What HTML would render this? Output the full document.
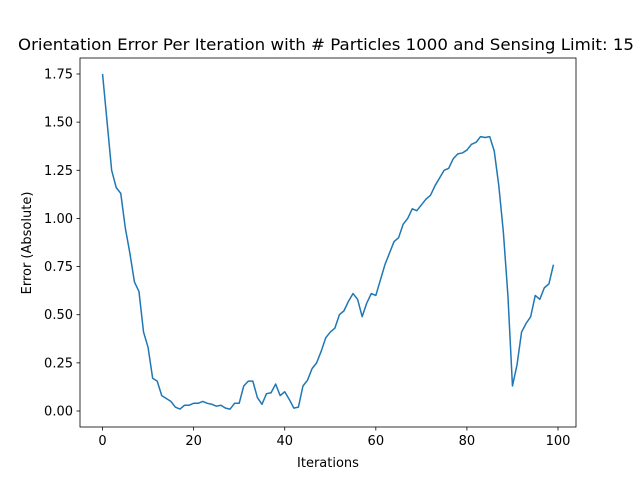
<!DOCTYPE html>
<html><head><meta charset="utf-8"><style>body{margin:0;background:#fff}svg{display:block;font-family:"DejaVu Sans","Liberation Sans",sans-serif}</style></head>
<body>
<svg id="chart" width="640" height="480" xmlns="http://www.w3.org/2000/svg">
<rect width="640" height="480" fill="#fff"/>
<text x="326" y="50" font-size="16" text-anchor="middle" textLength="616" lengthAdjust="spacingAndGlyphs">Orientation Error Per Iteration with # Particles 1000 and Sensing Limit: 15</text>
<g id="plot"></g>
<text x="328" y="467" font-size="13" text-anchor="middle">Iterations</text>
<text x="31" y="243" font-size="13" text-anchor="middle" transform="rotate(-90 31 243)">Error (Absolute)</text>
</svg>
<script>
const errors=[1.75,1.5,1.25,1.16,1.13,0.95,0.82,0.67,0.62,0.41,0.33,0.17,0.155,0.08,0.065,0.05,0.02,0.01,0.03,0.03,0.04,0.04,0.05,0.04,0.035,0.025,0.03,0.015,0.01,0.04,0.04,0.13,0.155,0.155,0.07,0.035,0.09,0.095,0.14,0.08,0.1,0.06,0.015,0.02,0.13,0.16,0.22,0.25,0.31,0.38,0.41,0.43,0.5,0.52,0.57,0.61,0.58,0.49,0.56,0.61,0.6,0.68,0.76,0.82,0.88,0.9,0.97,1.0,1.05,1.04,1.07,1.1,1.12,1.17,1.21,1.25,1.26,1.31,1.335,1.34,1.355,1.385,1.395,1.425,1.42,1.425,1.35,1.17,0.93,0.6,0.13,0.24,0.41,0.455,0.49,0.6,0.58,0.64,0.66,0.76];
const xTicks=[0,20,40,60,80,100];
const yTicks=[0,0.25,0.5,0.75,1.0,1.25,1.5,1.75];
const L=80,T=58,W=496,H=369;
const xmin=-4.95,xmax=103.95,ymin=-0.083,ymax=1.833;
const xs=v=>L+(v-xmin)/(xmax-xmin)*W;
const ys=v=>T+H-(v-ymin)/(ymax-ymin)*H;
const NS="http://www.w3.org/2000/svg";
const g=document.getElementById('plot');
function mk(t,a){const e=document.createElementNS(NS,t);for(const k in a)e.setAttribute(k,a[k]);g.appendChild(e);return e;}
const pts=errors.map((v,i)=>xs(i).toFixed(2)+','+ys(v).toFixed(2)).join(' ');
const line=mk('polyline',{points:pts,fill:'none',stroke:'#1f77b4','stroke-width':1.5,'stroke-linejoin':'round'});


xTicks.forEach(t=>{const x=xs(t);
 const tk=mk('line',{x1:x,x2:x,y1:T+H,y2:T+H+3.5,stroke:'#000','stroke-width':0.8});
 
 
 const tx=mk('text',{x:x,y:T+H+18,'font-size':13,'text-anchor':'middle'});tx.textContent=t;
 
 });
yTicks.forEach(t=>{const y=ys(t);
 const tk=mk('line',{x1:L-3.5,x2:L,y1:y,y2:y,stroke:'#000','stroke-width':0.8});
 
 
 const tx=mk('text',{x:L-7,y:y+4.5,'font-size':13,'text-anchor':'end'});tx.textContent=t.toFixed(2);
 
 });
const fr=mk('rect',{x:L,y:T,width:W,height:H,fill:'none',stroke:'#000','stroke-width':0.8});


</script>
</body></html>
